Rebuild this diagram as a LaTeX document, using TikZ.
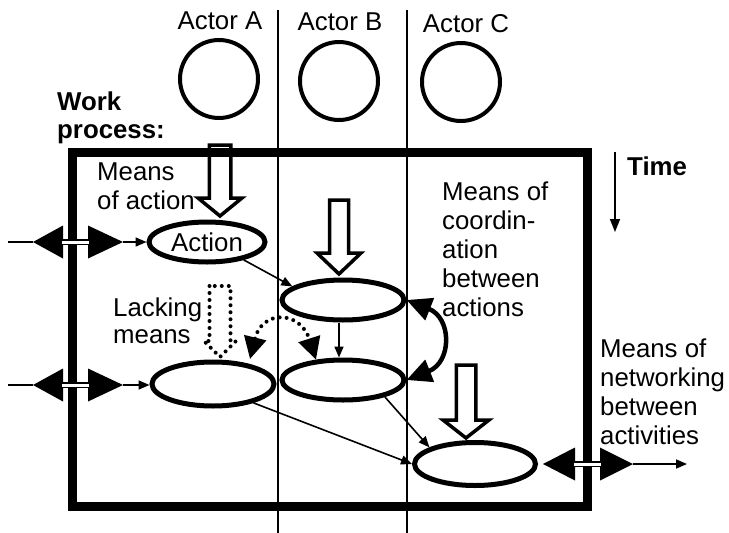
\documentclass[tikz,border=0pt]{standalone}
\usepackage{fontspec}
\setmainfont{Liberation Sans}
\usetikzlibrary{arrows.meta,shapes.geometric}
\newcommand{\hollowdown}[7][]{%
  \draw[hollow,#1] (#2-#6,#3) -- (#2-#6,#4) -- (#2-#7,#4) -- (#2,#5) -- (#2+#7,#4) -- (#2+#6,#4) -- (#2+#6,#3) -- cycle;}
\newcommand{\bidir}[5]{%
  \fill (#1,#5) -- (#2,#5-16.5) -- (#2,#5+16.5) -- cycle;
  \fill (#3,#5-16.5) -- (#4,#5) -- (#3,#5+16.5) -- cycle;
  \draw[line width=1.3pt, double=white, double distance=3pt] (#2-1,#5) -- (#3+1,#5);}
\begin{document}
\begin{tikzpicture}[x=1pt,y=-1pt,
  txt/.style={font=\fontsize{25.8}{29}\selectfont, inner sep=0pt, anchor=base west, align=left},
  ctxt/.style={font=\fontsize{25.8}{29}\selectfont, inner sep=0pt, anchor=base},
  actor/.style={circle, draw, line width=4pt, minimum size=78pt, inner sep=0pt},
  actev/.style={ellipse, draw, line width=5pt, inner sep=0pt, font=\fontsize{25.8}{29}\selectfont},
  hollow/.style={line width=3.5pt, line join=miter},
  thinarr/.style={line width=1.6pt, -{Triangle[length=11pt,width=9pt]}},
  bigarr/.style={line width=4.5pt, {Triangle[length=25pt,width=23pt]}-{Triangle[length=25pt,width=23pt]}},
  dots/.style={line width=4pt, line cap=round, dash pattern=on 0pt off 7pt},
  swim/.style={line width=2pt}]
\useasboundingbox (0,0) rectangle (729,533);

% actors
\node[ctxt] (la) at (220,29) {Actor A};
\node[ctxt] (lb) at (340,30) {Actor B};
\node[ctxt] (lc) at (466,32) {Actor C};
\node[actor] (ca) at (219,79) {};
\node[actor] (cb) at (339,81) {};
\node[actor] (cc) at (461,82) {};

% swimlane lines
\coordinate (s1t) at (278,10); \coordinate (s1b) at (278,533);
\coordinate (s2t) at (407,10); \coordinate (s2b) at (407,533);
\draw[swim] (s1t) -- (s1b);
\draw[swim] (s2t) -- (s2b);

% work process box
\node[txt, font=\bfseries\fontsize{25.8}{28}\selectfont] (wp) at (57,138) {Work\\process:};
\draw[line width=9pt] (72,152) rectangle (587,506);

% time
\coordinate (t0) at (615,152); \coordinate (t1) at (615,232);
\draw[line width=1.6pt, -{Triangle[length=13pt,width=10pt]}] (t0) -- (t1);
\node[txt, font=\bfseries\fontsize{25.8}{29}\selectfont] (time) at (627,175) {Time};

% labels (anchored at the baseline of their last line)
\node[txt] (moa) at (97,209) {Means\\of action};
\node[txt, font=\fontsize{25.8}{27}\selectfont] (lm) at (113,343) {Lacking\\means};
\node[txt] (moc) at (442,316) {Means of\\coordin-\\ation\\between\\actions};
\node[txt] (mon) at (600,444) {Means of\\networking\\between\\activities};

% activity ellipses
\node[actev, minimum width=116pt, minimum height=40pt] (act) at (207,242) {Action};
\node[actev, minimum width=122pt, minimum height=40pt] (b1) at (343,300) {};
\node[actev, minimum width=122pt, minimum height=40pt] (b2) at (343,380) {};
\node[actev, minimum width=122pt, minimum height=44pt] (a2) at (213,384) {};
\node[actev, minimum width=121pt, minimum height=43pt] (c) at (475,464) {};

% hollow arrows (means of action)
\hollowdown{220}{145}{198}{216}{10.75}{22}
\hollowdown{339}{200}{253}{274}{9.5}{22}
\hollowdown{466}{365}{420}{438}{9.75}{23}
% lacking means (dotted)
\hollowdown[dots]{220}{286}{341}{357}{10.5}{16}

% thin arrows between actions
\draw[thinarr] (act.-26) -- (b1.165);
\draw[thinarr] ([xshift=-4pt]b1.south) -- ([xshift=-4pt]b2.north);
\draw[thinarr] (a2.-25) -- (c.west);
\draw[thinarr] (b2.-22) -- (c.160);

% coordination (curved double arrow)
\draw[bigarr] (b1.east) .. controls (452,318) and (452,362) .. (b2.east);

% lacking coordination (dotted double arrow)
\coordinate (dl) at (250,359);
\draw[dots, {Triangle[length=22pt,width=22pt]}-{Triangle[length=22pt,width=22pt]}] (dl) .. controls (262,310) and (300,310) .. (b2.143);

% networking double arrows (left)
\coordinate (in1) at (8,242); \coordinate (h1) at (33,242); \coordinate (e1) at (123,242);
\draw[line width=1.6pt] (in1) -- (h1);
\bidir{33}{63}{88}{123}{242}
\draw[thinarr] (e1) -- (act.west);

\coordinate (in2) at (8,385); \coordinate (h2) at (33,385); \coordinate (e2) at (123,385);
\draw[line width=1.6pt] (in2) -- (h2);
\bidir{33}{63}{88}{123}{385}
\draw[thinarr] (e2) -- ([yshift=-1pt]a2.west);

% networking double arrow (right)
\coordinate (e3) at (633,464); \coordinate (out3) at (687,464);
\bidir{543}{575}{600}{633}{464}
\draw[thinarr] (e3) -- (out3);
\end{tikzpicture}
\end{document}
